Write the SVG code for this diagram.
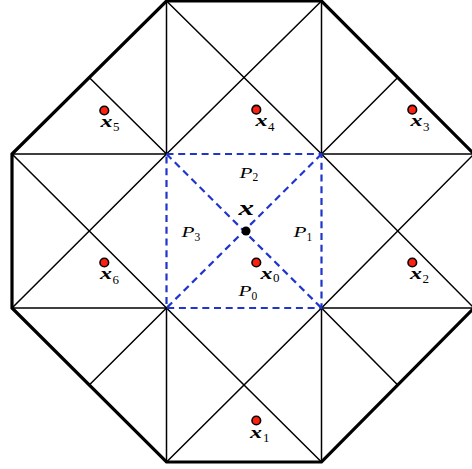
<svg xmlns="http://www.w3.org/2000/svg" width="472" height="469" viewBox="0 0 472 469">
<style>
.thin{stroke:#000;stroke-width:1.5;fill:none;stroke-linecap:round}
.thick{stroke:#000;stroke-width:3.2;fill:none;stroke-linejoin:miter}
.dash{stroke:#1f35cc;stroke-width:2.2;fill:none;stroke-dasharray:7 4.7}
.pt{fill:#ff2010;stroke:#000;stroke-width:1.6}
.vx{font-family:"Liberation Serif",serif;font-style:italic;font-weight:bold;font-size:17px;fill:#000}
.sub{font-family:"Liberation Serif",serif;font-size:13px;fill:#000}
.psub{font-family:"Liberation Serif",serif;font-size:11.5px;fill:#000}
.pl{font-family:"Liberation Serif",serif;font-style:italic;font-size:15.5px;fill:#000}
</style>
<rect width="472" height="469" fill="#fff"/>
<g id="connectors">
<g class="thin">
<line x1="166.5" y1="1" x2="166.5" y2="154"/>
<line x1="321.5" y1="1" x2="321.5" y2="154"/>
<line x1="166.5" y1="308" x2="166.5" y2="462"/>
<line x1="321.5" y1="308" x2="321.5" y2="462"/>
<line x1="12" y1="154" x2="166.5" y2="154"/>
<line x1="321.5" y1="154" x2="474" y2="154"/>
<line x1="12" y1="308" x2="166.5" y2="308"/>
<line x1="321.5" y1="308" x2="474" y2="308"/>
<line x1="166.5" y1="1" x2="321.5" y2="154"/>
<line x1="321.5" y1="1" x2="166.5" y2="154"/>
<line x1="12" y1="154" x2="166.5" y2="308"/>
<line x1="166.5" y1="154" x2="12" y2="308"/>
<line x1="321.5" y1="154" x2="474" y2="308"/>
<line x1="474" y1="154" x2="321.5" y2="308"/>
<line x1="166.5" y1="308" x2="321.5" y2="462"/>
<line x1="321.5" y1="308" x2="166.5" y2="462"/>
<line x1="166.5" y1="154" x2="89.25" y2="77.5"/>
<line x1="321.5" y1="154" x2="397.75" y2="77.5"/>
<line x1="166.5" y1="308" x2="89.25" y2="385"/>
<line x1="321.5" y1="308" x2="397.75" y2="385"/>
</g>
<polygon class="thick" points="166.5,1 321.5,1 474,154 474,308 321.5,462 166.5,462 12,308 12,154"/>
<g class="dash">
<rect x="166.5" y="154" width="155" height="154"/>
<line x1="166.5" y1="154" x2="321.5" y2="308"/>
<line x1="321.5" y1="154" x2="166.5" y2="308"/>
</g>
</g>
<g id="P0"><text class="pl" x="238.5" y="296" textLength="13" lengthAdjust="spacingAndGlyphs">P</text><text class="psub" x="251.5" y="299.5">0</text></g>
<g id="P1"><text class="pl" x="293.5" y="237" textLength="13" lengthAdjust="spacingAndGlyphs">P</text><text class="psub" x="306.5" y="240.5">1</text></g>
<g id="P2"><text class="pl" x="239.5" y="177.5" textLength="13" lengthAdjust="spacingAndGlyphs">P</text><text class="psub" x="252.5" y="181">2</text></g>
<g id="P3"><text class="pl" x="181.5" y="237" textLength="13" lengthAdjust="spacingAndGlyphs">P</text><text class="psub" x="194.5" y="240.5">3</text></g>
<g id="x"><circle cx="246" cy="231" r="4.5" fill="#000"/><text class="vx" x="238.5" y="214.5" style="font-size:22px" textLength="15.5" lengthAdjust="spacingAndGlyphs">x</text></g>
<g id="x0"><circle class="pt" cx="256.3" cy="262.5" r="4.3"/><text class="vx" x="260.5" y="278.5" textLength="12" lengthAdjust="spacingAndGlyphs">x</text><text class="sub" x="273" y="282">0</text></g>
<g id="x1"><circle class="pt" cx="256.3" cy="420.5" r="4.3"/><text class="vx" x="250" y="437.5" textLength="12" lengthAdjust="spacingAndGlyphs">x</text><text class="sub" x="263" y="442">1</text></g>
<g id="x2"><circle class="pt" cx="412.3" cy="262.5" r="4.3"/><text class="vx" x="410" y="278.5" textLength="12" lengthAdjust="spacingAndGlyphs">x</text><text class="sub" x="422.5" y="283">2</text></g>
<g id="x3"><circle class="pt" cx="412.3" cy="109.7" r="4.3"/><text class="vx" x="410.5" y="126" textLength="12" lengthAdjust="spacingAndGlyphs">x</text><text class="sub" x="423" y="130.5">3</text></g>
<g id="x4"><circle class="pt" cx="256.3" cy="109.7" r="4.3"/><text class="vx" x="255.5" y="126" textLength="12" lengthAdjust="spacingAndGlyphs">x</text><text class="sub" x="268" y="130.5">4</text></g>
<g id="x5"><circle class="pt" cx="104.3" cy="110.5" r="4.3"/><text class="vx" x="100.5" y="126.5" textLength="12" lengthAdjust="spacingAndGlyphs">x</text><text class="sub" x="113" y="131">5</text></g>
<g id="x6"><circle class="pt" cx="104.3" cy="262.5" r="4.3"/><text class="vx" x="100" y="279" textLength="12" lengthAdjust="spacingAndGlyphs">x</text><text class="sub" x="112.5" y="283.5">6</text></g>
</svg>
